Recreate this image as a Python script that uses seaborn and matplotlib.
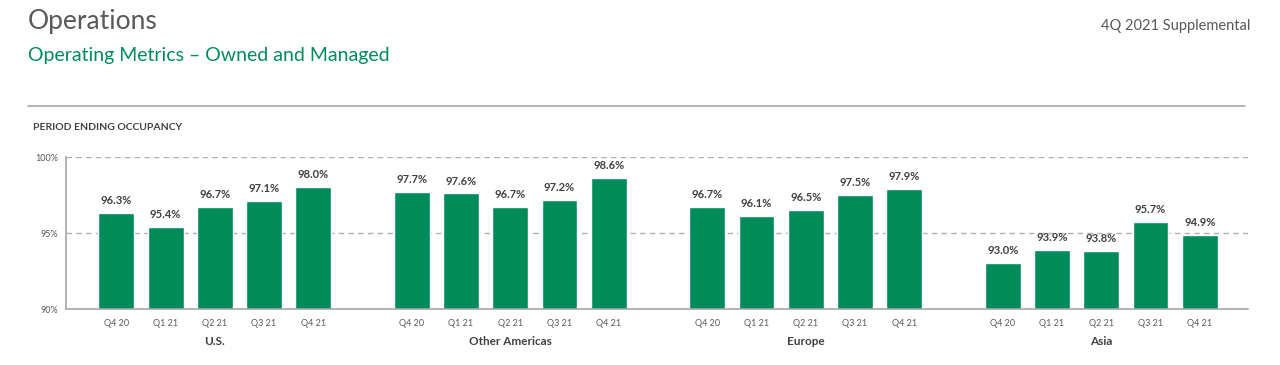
import matplotlib
matplotlib.use("Agg")
import matplotlib.pyplot as plt
import seaborn as sns
import pandas as pd

regions = ["U.S.", "Other Americas", "Europe", "Asia"]
quarters = ["Q4 20", "Q1 21", "Q2 21", "Q3 21", "Q4 21"]
occ_us = [96.3, 95.4, 96.7, 97.1, 98.0]
occ_other_am = [97.7, 97.6, 96.7, 97.2, 98.6]
occ_europe = [96.7, 96.1, 96.5, 97.5, 97.9]
occ_asia = [93.0, 93.9, 93.8, 95.7, 94.9]

green = "#008C5A"
gray_txt = "#595959"

rows = []
for g, (reg, vals) in enumerate(zip(regions, [occ_us, occ_other_am, occ_europe, occ_asia])):
    for i, (q, v) in enumerate(zip(quarters, vals)):
        rows.append({"region": reg, "quarter": q, "occ": v, "pos": g * 6 + i})
df = pd.DataFrame(rows)

sns.set_style("white")
plt.rcParams["font.family"] = ["Lato", "DejaVu Sans"]

fig = plt.figure(figsize=(12.8, 3.65), dpi=100)
ax = fig.add_axes([0.0516, 0.1534, 0.9234, 0.4164])

sns.barplot(data=df, x="pos", y="occ", native_scale=True, color=green,
            width=0.73, saturation=1, ax=ax, errorbar=None)
for c in ax.containers:
    ax.bar_label(c, labels=[f"{v:.1f}%" for v in c.datavalues], padding=5,
                 fontsize=8, fontweight="bold", color="#404040")

ax.set_ylim(90, 100)
ax.set_xlim(-1.02, 22.98)
ax.set_yticks([90, 95, 100])
ax.set_yticklabels(["90%", "95%", "100%"], fontsize=6.5, color=gray_txt)
ax.set_xticks(df["pos"])
ax.set_xticklabels(df["quarter"], fontsize=6.5, color=gray_txt)
ax.tick_params(axis="x", length=0, pad=7)
ax.tick_params(axis="y", length=4, color="#bfbfbf", pad=2)
for y in [95, 100]:
    ax.axhline(y, color="#b0b0b0", lw=1, ls=(0, (4, 3)), zorder=0)
for s in ["top", "right"]:
    ax.spines[s].set_visible(False)
for s in ["left", "bottom"]:
    ax.spines[s].set_color("#a6a6a6")
    ax.spines[s].set_linewidth(1.2)
ax.set_xlabel("")
ax.set_ylabel("")

for g, reg in enumerate(regions):
    ax.text(g * 6 + 2, -0.215, reg, transform=ax.get_xaxis_transform(),
            ha="center", va="center", fontsize=8.5, fontweight="bold", color="#404040")

fig.text(28 / 1280, 1 - 21 / 365, "Operations", fontsize=19, color=gray_txt, va="center")
fig.text(28 / 1280, 1 - 55 / 365, "Operating Metrics \u2013 Owned and Managed", fontsize=14,
         color=green, va="center")
fig.text(1250 / 1280, 1 - 26 / 365, "4Q 2021 Supplemental", fontsize=10.5, color=gray_txt,
         va="center", ha="right")
fig.text(33 / 1280, 1 - 128 / 365, "PERIOD ENDING OCCUPANCY", fontsize=7.5, fontweight="bold",
         color="#404040", va="center")
fig.add_artist(plt.Line2D([28 / 1280, 1245 / 1280], [1 - 106 / 365, 1 - 106 / 365],
                          color="#a6a6a6", lw=1.2))

fig.savefig("out.png", dpi=100)
